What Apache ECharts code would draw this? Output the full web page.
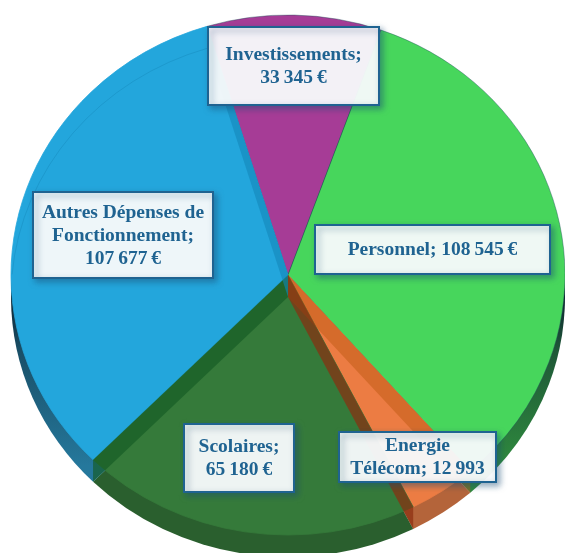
<!DOCTYPE html>
<html>
<head>
    <meta charset="UTF-8">
    <title>Répartition des dépenses</title>
    <script src="https://cdn.jsdelivr.net/npm/echarts@6/dist/echarts.min.js"></script>
    <style>
        html, body { margin: 0; padding: 0; background: #fff; }
    </style>
</head>
<body>

<div id="main" style="width: 565px;height:553px"></div>

<script type="text/javascript">
    // donnees
    var categories = ['Investissements', 'Personnel', 'Energie Télécom', 'Scolaires', 'Autres Dépenses de Fonctionnement'];
    var values = [33345, 108545, 12993, 65180, 107677];
    var labels = [
        'Investissements;\n33\u202f345\u202f€',
        'Personnel; 108\u202f545\u202f€',
        'Energie\nTélécom; 12\u202f993',
        'Scolaires;\n65\u202f180\u202f€',
        'Autres Dépenses de\nFonctionnement;\n107\u202f677\u202f€'
    ];
    var faceColors = ['#a63c96', '#47d65c', '#ec7c43', '#357a3a', '#23a6dc'];
    var sideColors = ['#6e2863', '#2f8a3e', '#b4643a', '#2a5f2e', '#25789c'];
    var wallColors = [
        'rgba(0,0,0,0)',
        'rgba(0,0,0,0)',
        'rgba(190,90,20,0.5)',
        'rgba(140,45,15,0.7)',
        'rgba(20,90,35,0.65)'
    ];
    // boites des etiquettes : x, y, largeur, hauteur
    var labelBoxes = [
        [208, 27, 171, 78],
        [315, 225, 235, 49],
        [339, 432, 157, 50],
        [184, 424, 110, 68],
        [33, 192, 180, 86]
    ];

    var cx = 288, cy = 275, rx = 277, ry = 260, depth = 22;
    var startDeg = -17;
    var total = values.reduce(function (a, b) { return a + b; }, 0);

    // angle depuis le haut, sens horaire
    function sliceAngles(index) {
        var before = 0;
        for (var i = 0; i < index; i++) before += values[i];
        var a0 = startDeg + before / total * 360;
        return [a0, a0 + values[index] / total * 360];
    }
    function rad(deg) { return (deg - 90) * Math.PI / 180; }
    function rimPoint(deg, dy) {
        return [cx + rx * Math.cos(rad(deg)), cy + dy + ry * Math.sin(rad(deg))];
    }
    function sector(index, dy, style) {
        var a = sliceAngles(index);
        return {
            type: 'sector',
            x: cx, y: cy + dy, scaleY: ry / rx,
            shape: { cx: 0, cy: 0, r0: 0, r: rx, startAngle: rad(a[0]), endAngle: rad(a[1]), clockwise: true },
            style: style
        };
    }

    function renderSide(params) {
        var i = params.dataIndex;
        return sector(i, depth, {
            fill: new echarts.graphic.LinearGradient(0, 0, 0, rx, [
                { offset: 0, color: '#0d2430' },
                { offset: 0.2, color: echarts.color.lerp(0.5, ['#0d2430', sideColors[i]]) },
                { offset: 0.65, color: sideColors[i] },
                { offset: 1, color: sideColors[i] }
            ], true)
        });
    }
    function renderFace(params) {
        var i = params.dataIndex;
        return sector(i, 0, {
            fill: faceColors[i],
            stroke: (i < 2) ? 'rgba(30,80,90,0.55)' : faceColors[i],
            lineWidth: 0.8
        });
    }
    // parois internes vues par transparence, au bord de chaque part
    function renderWall(params) {
        var i = params.dataIndex;
        var a = sliceAngles(i);
        var children = [{
            type: 'polygon',
            shape: { points: [[cx, cy], rimPoint(a[0], 0), rimPoint(a[0], depth), [cx, cy + depth]] },
            style: { fill: wallColors[i] }
        }];
        if (i === 4) {
            // bande sombre cote Investissements et arc arriere
            children.push({
                type: 'polygon',
                shape: { points: [[cx, cy], rimPoint(a[1], 0), rimPoint(a[1], depth), [cx, cy + depth]] },
                style: { fill: 'rgba(20,135,185,0.6)' }
            });
            children.push({
                type: 'arc',
                x: cx, y: cy + depth, scaleY: ry / rx,
                shape: { cx: 0, cy: 0, r: rx, startAngle: rad(275), endAngle: rad(a[1]), clockwise: true },
                style: { fill: null, stroke: 'rgba(20,135,185,0.45)', lineWidth: 1 }
            });
        }
        return { type: 'group', children: children };
    }
    function renderLabel(params) {
        var i = params.dataIndex;
        var b = labelBoxes[i];
        return {
            type: 'group',
            children: [{
                type: 'rect',
                shape: { x: b[0], y: b[1], width: b[2], height: b[3] },
                style: {
                    fill: 'rgba(254,255,255,0.93)',
                    stroke: '#1f6391',
                    lineWidth: 2,
                    shadowColor: 'rgba(25,75,115,0.5)',
                    shadowBlur: 6,
                    shadowOffsetX: 3,
                    shadowOffsetY: 3
                }
            }, {
                type: 'text',
                style: {
                    x: b[0] + b[2] / 2,
                    y: b[1] + b[3] / 2 + 0.5,
                    text: labels[i],
                    fill: '#1f6391',
                    font: 'bold 19.5px "Liberation Serif"',
                    align: 'center',
                    verticalAlign: 'middle',
                    lineHeight: 23
                }
            }]
        };
    }

    var seriesData = values.map(function (v, i) { return { name: categories[i], value: v }; });
    function layer(renderItem) {
        return {
            type: 'custom',
            coordinateSystem: 'none',
            silent: true,
            renderItem: renderItem,
            data: seriesData
        };
    }

    var myChart = echarts.init(document.getElementById('main'), null, { renderer: 'canvas' });
    myChart.setOption({
        animation: false,
        series: [layer(renderSide), layer(renderFace), layer(renderWall), layer(renderLabel)]
    });
</script>
</body>
</html>
